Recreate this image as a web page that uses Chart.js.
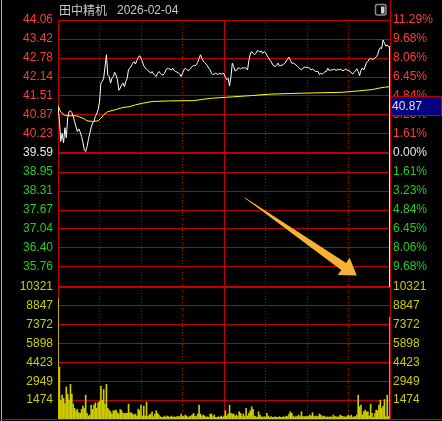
<!DOCTYPE html>
<html>
<head>
<meta charset="utf-8">
<script src="https://cdn.jsdelivr.net/npm/chart.js@4.4.1/dist/chart.umd.min.js"></script>
<style>
  html, body { margin: 0; padding: 0; background: #000; overflow: hidden; }
  #wrap { position: relative; width: 442px; height: 421px; background: #000; }
  #priceChart { position: absolute; left: 0; top: 0; }
  #volChart { position: absolute; left: 0; top: 280px; }
</style>
</head>
<body>
<div id="wrap">
  <canvas id="priceChart" width="442" height="287"></canvas>
  <canvas id="volChart" width="442" height="141"></canvas>
</div>
<script>
// header
const stockName = "田中精机";
const tradeDate = "2026-02-04";
const prevClose = 39.59;
const cursorPrice = 40.87;

// price axis (left) and change axis (right)
const priceTicks = [44.06, 43.42, 42.78, 42.14, 41.51, 40.87, 40.23, 39.59, 38.95, 38.31, 37.67, 37.04, 36.40, 35.76];
const pctLabels = ["11.29%", "9.68%", "8.06%", "6.45%", "4.84%", "3.23%", "1.61%", "0.00%", "1.61%", "3.23%", "4.84%", "6.45%", "8.06%", "9.68%"];
const priceMin = 35.12;
const priceMax = 44.06;

// volume axis
const volTicks = [10321, 8847, 7372, 5898, 4423, 2949, 1474];
const volMax = 10321;

// time marks (minutes from open, 240 = close)
const halfHourMarks = [30, 60, 90, 150, 180, 210];
const middayMark = 120;

// minute prices
const prices = [
  41.15, 40.70, 39.98, 40.25, 39.93, 40.44, 40.10, 40.77, 40.98, 41.01,
  40.95, 40.82, 40.65, 40.48, 40.31, 40.40, 40.30, 40.15, 39.95, 39.70,
  39.64, 39.80, 40.05, 40.25, 40.45, 40.60, 40.65, 40.82, 40.90, 41.05,
  41.30, 41.94, 42.00, 42.10, 42.49, 42.89, 42.21, 42.16, 41.94, 42.10,
  42.16, 42.30, 42.20, 42.05, 41.70, 41.77, 41.88, 41.94, 41.82, 41.99,
  42.10, 42.40, 42.44, 42.52, 42.61, 42.66, 42.58, 42.70, 42.80, 42.86,
  42.77, 42.66, 42.52, 42.45, 42.40, 42.36, 42.33, 42.27, 42.33, 42.25,
  42.20, 42.16, 42.27, 42.33, 42.27, 42.22, 42.21, 42.27, 42.38, 42.44,
  42.42, 42.41, 42.38, 42.44, 42.36, 42.33, 42.31, 42.28, 42.24, 42.16,
  42.27, 42.38, 42.44, 42.40, 42.36, 42.38, 42.44, 42.49, 42.54, 42.52,
  42.55, 42.64, 42.77, 42.89, 42.77, 42.68, 42.63, 42.58, 42.52, 42.44,
  42.38, 42.27, 42.22, 42.25, 42.27, 42.24, 42.24, 42.27, 42.24, 42.27,
  42.25, 42.14, 42.05, 42.10, 41.85, 42.15, 42.61, 42.49, 42.35, 42.36,
  42.44, 42.45, 42.41, 42.46, 42.44, 42.46, 42.44, 42.38, 42.70, 42.92,
  43.00, 42.94, 42.89, 42.94, 43.03, 43.02, 42.98, 43.02, 42.94, 43.00,
  42.96, 42.88, 42.80, 42.72, 42.67, 42.58, 42.51, 42.50, 42.53, 42.61,
  42.52, 42.53, 42.54, 42.57, 42.61, 42.68, 42.75, 42.81, 42.70, 42.61,
  42.61, 42.59, 42.55, 42.50, 42.46, 42.42, 42.38, 42.44, 42.47, 42.47,
  42.47, 42.46, 42.44, 42.38, 42.41, 42.38, 42.33, 42.33, 42.33, 42.22,
  42.27, 42.24, 42.28, 42.32, 42.33, 42.44, 42.36, 42.38, 42.38, 42.40,
  42.41, 42.35, 42.41, 42.38, 42.41, 42.38, 42.35, 42.38, 42.41, 42.37,
  42.38, 42.32, 42.30, 42.24, 42.30, 42.35, 42.42, 42.33, 42.19, 42.37,
  42.44, 42.38, 42.49, 42.63, 42.66, 42.75, 42.77, 42.74, 42.74, 42.77,
  42.82, 42.89, 43.05, 43.13, 43.10, 43.39, 43.28, 43.18, 43.22, 43.16,
  43.16
];

// average price line, read at these minutes
const avgMinutes = [0, 2, 5, 8, 13, 15, 19, 21, 25, 29, 31, 33, 36, 41, 47, 52, 56, 61, 68, 80, 98, 104, 111, 127, 140, 154, 176, 205, 218, 227, 232, 236, 240];
const avgValues = [41.19, 40.96, 40.85, 40.84, 40.84, 40.81, 40.74, 40.67, 40.65, 40.67, 40.76, 40.87, 40.98, 41.04, 41.12, 41.15, 41.21, 41.26, 41.32, 41.34, 41.35, 41.39, 41.43, 41.48, 41.52, 41.57, 41.60, 41.63, 41.68, 41.72, 41.77, 41.80, 41.82];

// minute volumes
const volumes = [
  9450, 4060, 1474, 1862, 1603, 1215, 2508, 1940, 1474, 2715,
  1940, 1164, 828, 647, 750, 491, 440, 750, 1008, 828,
  1862, 440, 233, 310, 1086, 750, 1086, 1267, 828, 1267,
  1396, 2560, 1474, 2301, 1164, 2715, 828, 698, 569, 388,
  647, 647, 698, 491, 388, 750, 647, 440, 440, 440,
  440, 1164, 491, 491, 388, 310, 388, 233, 776, 647,
  1086, 233, 1008, 233, 1319, 181, 310, 388, 569, 181,
  388, 647, 440, 310, 181, 129, 129, 233, 129, 233,
  181, 129, 233, 129, 181, 129, 181, 181, 181, 388,
  233, 181, 310, 233, 129, 181, 233, 310, 440, 233,
  181, 388, 1086, 388, 233, 310, 233, 129, 181, 129,
  388, 388, 181, 310, 129, 129, 181, 129, 233, 129,
  233, 647, 233, 388, 1086, 440, 388, 388, 233, 310,
  181, 569, 440, 233, 388, 181, 828, 233, 440, 647,
  957, 750, 233, 181, 129, 569, 310, 181, 129, 181,
  129, 440, 233, 129, 181, 129, 129, 181, 129, 129,
  181, 129, 129, 181, 129, 233, 181, 388, 569, 440,
  233, 129, 233, 181, 310, 181, 569, 181, 181, 181,
  233, 181, 310, 233, 491, 233, 181, 233, 181, 388,
  310, 181, 233, 181, 129, 181, 129, 181, 129, 310,
  181, 181, 129, 181, 310, 233, 181, 181, 129, 233,
  310, 181, 310, 129, 181, 181, 310, 1862, 957, 1086,
  310, 569, 698, 569, 569, 233, 1164, 440, 129, 440,
  698, 647, 1086, 1474, 828, 1008, 1526, 181, 1862, 181,
  7950
];

// annotation arrow, in (minute, price)
const arrowFrom = [135, 38.09];
const arrowTo = [216, 35.47];

const gridRed = "#c00000";
const upRed = "#ff3c3c";
const downGreen = "#22cc22";
const flatWhite = "#e8e8e8";
const volYellow = "#cccc00";

Chart.defaults.font.family = "'Liberation Sans', Arial, sans-serif";
Chart.defaults.font.size = 12;
Chart.defaults.animation = false;

function priceColor(v) {
  if (v > prevClose) return upRed;
  if (v < prevClose) return downGreen;
  return flatWhite;
}

// keep the plot area exactly where the padding puts it
function fixWidth(w) {
  return s => { s.width = w; s.paddingTop = 0; s.paddingBottom = 0; };
}
function noHeight(s) {
  s.height = 0; s.paddingLeft = 0; s.paddingRight = 0;
}

// the two time axes: dotted half hours and the solid midday line
function timeAxes() {
  return {
    x: {
      type: "linear", min: 0, max: 240, position: "bottom", offset: false,
      ticks: { display: false },
      grid: { color: gridRed, drawTicks: false, lineWidth: 1, offset: false },
      border: { display: false, dash: [1, 2] },
      afterBuildTicks: s => { s.ticks = halfHourMarks.map(v => ({ value: v })); },
      afterFit: noHeight
    },
    xMid: {
      type: "linear", min: 0, max: 240, position: "bottom", offset: false,
      ticks: { display: false },
      grid: { color: gridRed, drawTicks: false, lineWidth: 1, offset: false },
      border: { display: false },
      afterBuildTicks: s => { s.ticks = [{ value: middayMark }]; },
      afterFit: noHeight
    }
  };
}

const priceDecor = {
  id: "priceDecor",
  afterDraw(chart) {
    const ctx = chart.ctx;
    const x = chart.scales.x, y = chart.scales.y;
    const area = chart.chartArea;
    ctx.save();

    // frame bits
    ctx.fillStyle = "#b8b8b8";
    ctx.fillRect(1, 0, 1, chart.height);
    ctx.fillStyle = gridRed;
    ctx.fillRect(area.right, 0, 1, area.top);

    // title
    ctx.fillStyle = "#c8c8c8";
    ctx.textBaseline = "alphabetic";
    ctx.font = "12px 'Noto Sans CJK SC', sans-serif";
    ctx.fillText(stockName, 59, 15);
    ctx.font = "12px 'Liberation Sans', Arial, sans-serif";
    ctx.fillText(tradeDate, 117, 14);

    // window icon
    ctx.strokeStyle = "#8c8c8c";
    ctx.lineWidth = 1.5;
    ctx.beginPath();
    ctx.roundRect(375.5, 4.5, 10.5, 10.5, 2);
    ctx.stroke();
    ctx.fillStyle = "#d0d0d0";
    ctx.fillRect(381, 6.5, 3.5, 7);

    // cursor line at the last minute
    const cx = Math.round(x.getPixelForValue(240)) - 0.5;
    ctx.strokeStyle = "#ffffff";
    ctx.lineWidth = 1;
    ctx.beginPath();
    ctx.moveTo(cx, y.getPixelForValue(prices[prices.length - 1]));
    ctx.lineTo(cx, chart.height);
    ctx.stroke();

    // cursor price box
    const bTop = Math.round(y.getPixelForValue(41.51)) + 0.5;
    const bBot = Math.round(y.getPixelForValue(cursorPrice)) + 0.5;
    ctx.fillStyle = "#000080";
    ctx.fillRect(area.right, bTop, 51, bBot - bTop);
    ctx.strokeStyle = gridRed;
    ctx.strokeRect(area.right + 0.5, bTop, 51, bBot - bTop);
    ctx.fillStyle = "#e0e0e0";
    ctx.textBaseline = "middle";
    ctx.fillText(cursorPrice.toFixed(2), area.right + 2, (bTop + bBot) / 2 + 1);

    // arrow
    const ax0 = x.getPixelForValue(arrowFrom[0]), ay0 = y.getPixelForValue(arrowFrom[1]);
    const ax1 = x.getPixelForValue(arrowTo[0]), ay1 = y.getPixelForValue(arrowTo[1]);
    const dx = ax1 - ax0, dy = ay1 - ay0, len = Math.hypot(dx, dy);
    const ux = dx / len, uy = dy / len, nx = -uy, ny = ux;
    const headLen = 16, headHalf = 10.5, shaftHalf = 4.3;
    const bx = ax1 - ux * headLen, by = ay1 - uy * headLen;
    ctx.fillStyle = "#f6b234";
    ctx.beginPath();
    ctx.moveTo(ax0 + nx * 0.3, ay0 + ny * 0.3);
    ctx.lineTo(bx + nx * shaftHalf, by + ny * shaftHalf);
    ctx.lineTo(bx + nx * headHalf, by + ny * headHalf);
    ctx.lineTo(ax1, ay1);
    ctx.lineTo(bx - nx * headHalf, by - ny * headHalf);
    ctx.lineTo(bx - nx * shaftHalf, by - ny * shaftHalf);
    ctx.lineTo(ax0 - nx * 0.3, ay0 - ny * 0.3);
    ctx.closePath();
    ctx.fill();

    ctx.restore();
  }
};

const volDecor = {
  id: "volDecor",
  afterDraw(chart) {
    const ctx = chart.ctx;
    const area = chart.chartArea;
    ctx.save();
    ctx.fillStyle = "#b8b8b8";
    ctx.fillRect(1, 0, 1, chart.height);
    ctx.fillStyle = gridRed;
    ctx.fillRect(0, area.bottom, chart.width, 1);
    ctx.fillStyle = "#0000c8";
    ctx.fillRect(83, area.bottom + 1, 32, 1);
    const cx = Math.round(chart.scales.x.getPixelForValue(240)) - 0.5;
    ctx.strokeStyle = "#ffffff";
    ctx.lineWidth = 1;
    ctx.beginPath();
    ctx.moveTo(cx, 0);
    ctx.lineTo(cx, area.top);
    ctx.stroke();
    ctx.restore();
  }
};

new Chart(document.getElementById("priceChart"), {
  type: "line",
  data: {
    datasets: [
      {
        data: prices.map((p, i) => ({ x: i, y: p })),
        borderColor: "#ffffff", borderWidth: 1, pointRadius: 0, tension: 0
      },
      {
        data: avgMinutes.map((m, i) => ({ x: m, y: avgValues[i] })),
        borderColor: "#ffff00", borderWidth: 1, pointRadius: 0, tension: 0
      }
    ]
  },
  options: {
    responsive: false,
    layout: { autoPadding: false, padding: { top: 20, bottom: 1, left: 0, right: 0 } },
    plugins: { legend: { display: false }, tooltip: { enabled: false } },
    scales: Object.assign(timeAxes(), {
      y: {
        position: "left", min: priceMin, max: priceMax,
        afterBuildTicks: s => { s.ticks = priceTicks.map(v => ({ value: v })); },
        afterFit: fixWidth(58),
        ticks: {
          autoSkip: false, padding: 5,
          color: c => priceColor(c.tick.value),
          callback: v => v.toFixed(2)
        },
        grid: {
          color: gridRed, drawTicks: false,
          lineWidth: c => (c.tick && c.tick.value === prevClose) ? 2 : 1
        },
        border: { color: gridRed }
      },
      yPct: {
        position: "right", min: priceMin, max: priceMax,
        afterBuildTicks: s => { s.ticks = priceTicks.map(v => ({ value: v })); },
        afterFit: fixWidth(52),
        ticks: {
          autoSkip: false, padding: 3,
          color: c => priceColor(c.tick.value),
          callback: v => pctLabels[priceTicks.indexOf(v)]
        },
        grid: { drawOnChartArea: false, drawTicks: false },
        border: { color: gridRed }
      }
    })
  },
  plugins: [priceDecor]
});

new Chart(document.getElementById("volChart"), {
  type: "bar",
  data: {
    datasets: [{
      data: volumes.map((v, i) => ({ x: i, y: v })),
      backgroundColor: volYellow, borderWidth: 0, barThickness: 1, grouped: false
    }]
  },
  options: {
    responsive: false,
    layout: { autoPadding: false, padding: { top: 7, bottom: 2, left: 0, right: 0 } },
    plugins: { legend: { display: false }, tooltip: { enabled: false } },
    scales: Object.assign(timeAxes(), {
      y: {
        position: "left", min: 0, max: volMax,
        afterBuildTicks: s => { s.ticks = volTicks.map(v => ({ value: v })); },
        afterFit: fixWidth(58),
        ticks: { autoSkip: false, padding: 5, color: volYellow, callback: v => String(v) },
        grid: {
          color: gridRed, drawTicks: false,
          lineWidth: c => (c.tick && c.tick.value === volMax) ? 2 : 1
        },
        border: { color: gridRed }
      },
      yR: {
        position: "right", min: 0, max: volMax,
        afterBuildTicks: s => { s.ticks = volTicks.map(v => ({ value: v })); },
        afterFit: fixWidth(52),
        ticks: { autoSkip: false, padding: 3, color: volYellow, callback: v => String(v) },
        grid: { drawOnChartArea: false, drawTicks: false },
        border: { color: gridRed }
      }
    })
  },
  plugins: [volDecor]
});
</script>
</body>
</html>
